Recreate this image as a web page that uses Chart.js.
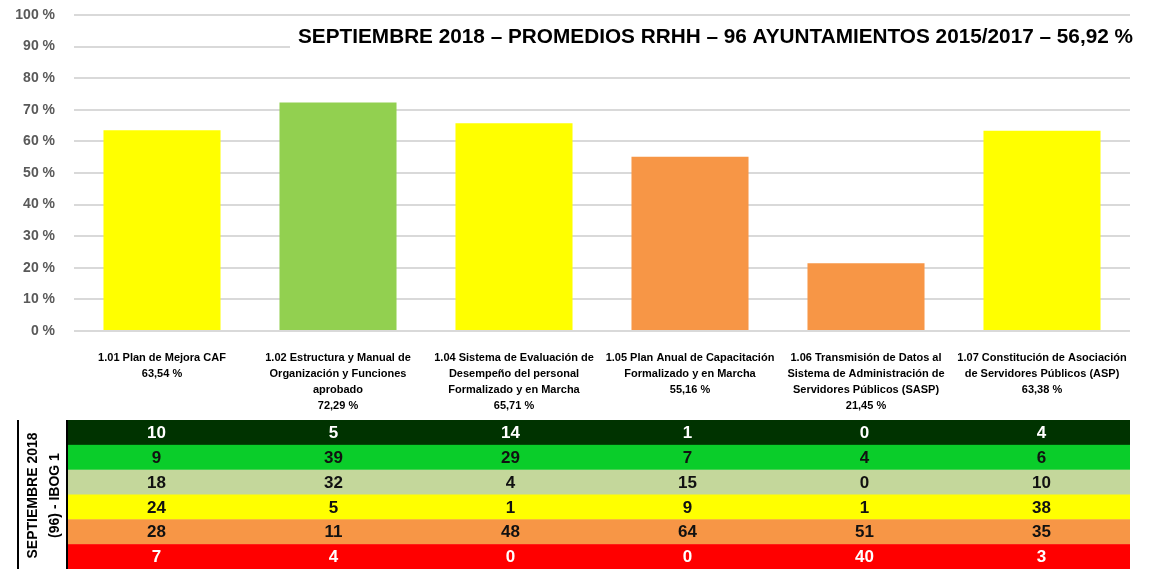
<!DOCTYPE html>
<html lang="es">
<head>
<meta charset="UTF-8">
<title>Promedios RRHH - 96 Ayuntamientos</title>
<script src="https://cdn.jsdelivr.net/npm/chart.js@4.4.1/dist/chart.umd.min.js"></script>
<style>
  html, body { margin: 0; padding: 0; background: #fff; }
  #wrap { width: 1150px; height: 569px; position: relative; }
</style>
</head>
<body>
<div id="wrap"><canvas id="rrhhChart"></canvas></div>
<script>
// --- Datos ---
const categorias = [
    ["1.01 Plan de Mejora CAF"],
    ["1.02 Estructura y Manual de", "Organización y Funciones", "aprobado"],
    ["1.04 Sistema de Evaluación de", "Desempeño del personal", "Formalizado y en Marcha"],
    ["1.05 Plan Anual de Capacitación", "Formalizado y en Marcha"],
    ["1.06 Transmisión de Datos al", "Sistema de Administración de", "Servidores Públicos (SASP)"],
    ["1.07 Constitución de Asociación", "de Servidores Públicos (ASP)"]
];
const promedios = [63.54, 72.29, 65.71, 55.16, 21.45, 63.38];

// filas de la tabla (numero de ayuntamientos por nivel)
const filaVerdeOscuro = [10, 5, 14, 1, 0, 4];
const filaVerde       = [9, 39, 29, 7, 4, 6];
const filaKhaki       = [18, 32, 4, 15, 0, 10];
const filaAmarillo    = [24, 5, 1, 9, 1, 38];
const filaNaranja     = [28, 11, 48, 64, 51, 35];
const filaRoja        = [7, 4, 0, 0, 40, 3];
const filasTabla = [filaVerdeOscuro, filaVerde, filaKhaki, filaAmarillo, filaNaranja, filaRoja];

const titulo = 'SEPTIEMBRE 2018 – PROMEDIOS RRHH – 96 AYUNTAMIENTOS 2015/2017 – 56,92 %';
const etiquetaTabla = ['SEPTIEMBRE 2018', '(96) - IBOG 1'];

// --- Estilos ---
const coloresBarras = ['#FFFF00', '#92D050', '#FFFF00', '#F79646', '#F79646', '#FFFF00'];
const coloresFilas = ['#003300', '#0ACD2A', '#C4D79B', '#FFFF00', '#F79646', '#FF0000'];
const coloresTextoFilas = ['#FFFFFF', '#111111', '#111111', '#111111', '#111111', '#FFFFFF'];
const FUENTE_NARROW = '"Liberation Sans Narrow", "Liberation Sans", Arial, sans-serif';

// formato 63,54 %
function formatoPct(v) {
    return v.toFixed(2).replace('.', ',') + ' %';
}

// --- Plugin: titulo dentro del area ---
const tituloPlugin = {
    id: 'tituloInterno',
    afterDatasetsDraw(chart) {
        const ctx = chart.ctx;
        const area = chart.chartArea;
        ctx.save();
        // caja blanca que tapa las lineas de la rejilla
        ctx.fillStyle = '#fff';
        ctx.fillRect(290, area.top + 5, chart.width - 290, 38);
        ctx.font = 'bold 20px ' + FUENTE_NARROW;
        const w = ctx.measureText(titulo).width;
        const anchoObjetivo = 835;
        ctx.translate(area.right + 3, area.top + 22);
        ctx.scale(anchoObjetivo / w, 1);
        ctx.fillStyle = '#000';
        ctx.textAlign = 'right';
        ctx.textBaseline = 'middle';
        ctx.fillText(titulo, 0, 0);
        ctx.restore();
    }
};

// --- Plugin: tabla de niveles bajo el eje X ---
const tablaPlugin = {
    id: 'tablaNiveles',
    afterDraw(chart) {
        const ctx = chart.ctx;
        const x = chart.scales.x;
        const top = x.bottom;
        const altoFila = (chart.height - top) / filasTabla.length;
        const izq = x.left - 6;
        const anchoCol = (x.right - izq) / categorias.length;

        ctx.save();
        filasTabla.forEach((fila, r) => {
            const y0 = top + r * altoFila;
            ctx.fillStyle = coloresFilas[r];
            ctx.fillRect(izq, y0, x.right - izq, altoFila + 0.5);
            ctx.fillStyle = coloresTextoFilas[r];
            ctx.font = 'bold 17px "Liberation Sans", Arial, sans-serif';
            ctx.textAlign = 'center';
            ctx.textBaseline = 'middle';
            fila.forEach((v, c) => {
                ctx.fillText(String(v), izq + anchoCol * (c + 0.5), y0 + altoFila / 2 + 1);
            });
        });

        // bordes verticales a la izquierda
        ctx.fillStyle = '#000';
        ctx.fillRect(17, top, 2, chart.height - top);
        ctx.fillRect(izq - 2, top, 2, chart.height - top);

        // etiqueta girada
        const cy = top + (chart.height - top) / 2 + 1;
        ctx.font = 'bold 14px ' + FUENTE_NARROW;
        ctx.fillStyle = '#000';
        ctx.textAlign = 'center';
        ctx.textBaseline = 'middle';
        [33, 55].forEach((cx, i) => {
            ctx.save();
            ctx.translate(cx, cy);
            ctx.rotate(-Math.PI / 2);
            ctx.fillText(etiquetaTabla[i], 0, 0);
            ctx.restore();
        });
        ctx.restore();
    }
};

// --- Grafico ---
const ctx = document.getElementById('rrhhChart').getContext('2d');
new Chart(ctx, {
    type: 'bar',
    data: {
        labels: categorias.map((c, i) => c.concat([formatoPct(promedios[i])])),
        datasets: [{
            data: promedios,
            backgroundColor: coloresBarras,
            borderWidth: 0,
            categoryPercentage: 1,
            barPercentage: 0.665
        }]
    },
    options: {
        responsive: true,
        maintainAspectRatio: false,
        animation: false,
        layout: { padding: { top: 15, right: 20, bottom: 149, left: 0 } },
        plugins: {
            legend: { display: false },
            tooltip: { enabled: false }
        },
        scales: {
            x: {
                grid: { display: false },
                border: { display: false },
                ticks: {
                    autoSkip: false,
                    maxRotation: 0,
                    minRotation: 0,
                    padding: 11,
                    color: '#000',
                    font: { family: FUENTE_NARROW, size: 11, weight: 'bold', lineHeight: 1.45 }
                },
                afterFit: s => { s.height = 89; }
            },
            y: {
                min: 0,
                max: 100,
                border: { display: false },
                // marcas invisibles para separar las etiquetas de la rejilla
                grid: { color: '#D9D9D9', lineWidth: 2, drawTicks: true, tickLength: 16, tickColor: 'rgba(0,0,0,0)' },
                ticks: {
                    stepSize: 10,
                    padding: 3,
                    color: '#595959',
                    font: { family: '"Liberation Sans", Arial, sans-serif', size: 14, weight: 'bold' },
                    callback: v => v + ' %'
                },
                afterFit: s => { s.width = 74; }
            }
        }
    },
    plugins: [tituloPlugin, tablaPlugin]
});
</script>
</body>
</html>
